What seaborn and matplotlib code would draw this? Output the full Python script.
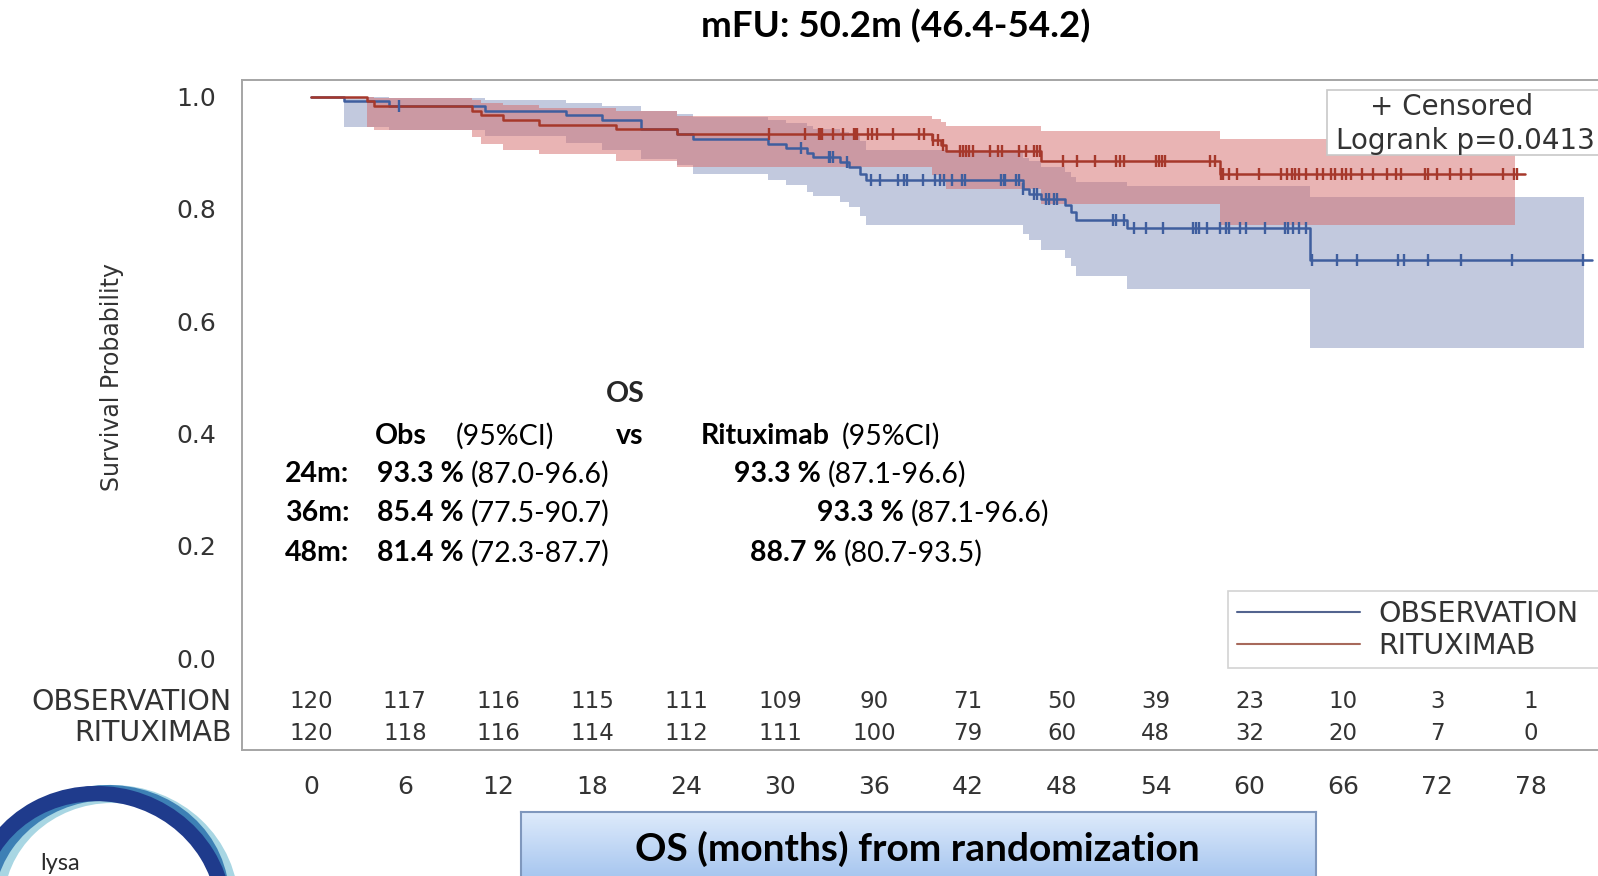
import numpy as np
import pandas as pd
import matplotlib
matplotlib.use("Agg")
import matplotlib.pyplot as plt
import seaborn as sns
from matplotlib.patches import Rectangle, Ellipse
from matplotlib.lines import Line2D

# ---------------- data ----------------
title_text = "mFU: 50.2m (46.4-54.2)"
groups = ["OBSERVATION", "RITUXIMAB"]

obs_t = [0, 2.1, 5.0, 11.1, 16.3, 18.6, 21.1, 23.4, 24.4, 29.2, 30.4, 31.7, 32.1, 33.8,
         34.4, 35.1, 35.5, 45.5, 45.9, 46.7, 48.2, 48.6, 48.9, 52.2, 63.9]
obs_s = [1.0, 0.992, 0.983, 0.975, 0.967, 0.958, 0.942, 0.933, 0.925, 0.916, 0.908, 0.900,
         0.892, 0.883, 0.874, 0.862, 0.851, 0.836, 0.827, 0.818, 0.806, 0.794, 0.780, 0.765, 0.708]
obs_lo = [1.0, 0.945, 0.940, 0.930, 0.918, 0.905, 0.888, 0.878, 0.862, 0.851, 0.842, 0.830,
          0.823, 0.812, 0.803, 0.788, 0.772, 0.756, 0.744, 0.726, 0.712, 0.698, 0.681, 0.658, 0.552]
obs_hi = [1.0, 1.0, 0.997, 0.993, 0.988, 0.983, 0.975, 0.969, 0.964, 0.958, 0.953, 0.947,
          0.942, 0.936, 0.930, 0.921, 0.905, 0.890, 0.885, 0.875, 0.866, 0.857, 0.848, 0.840, 0.821]
obs_end = 81.9
obs_band_end = 81.4
obs_cens = [5.6, 31.3, 33.1, 33.2, 33.4, 34.3, 35.8, 36.4, 37.5, 37.9, 38.1, 39.1, 39.9, 40.2,
            40.5, 41.0, 41.6, 41.8, 44.1, 44.3, 44.4, 45.1, 45.3, 45.5, 46.2, 46.4, 47.0, 47.2,
            47.5, 47.7, 51.3, 51.5, 52.0, 52.6, 53.4, 54.5, 56.4, 56.6, 56.8, 57.3, 58.1, 58.5,
            58.7, 59.4, 59.8, 61.0, 62.3, 62.5, 62.8, 63.2, 63.6, 64.0, 65.6, 66.9, 69.5, 69.9,
            71.4, 73.5, 76.8, 81.3]

rit_t = [0, 3.6, 4.0, 10.3, 10.9, 12.3, 14.6, 19.5, 23.4, 39.7, 40.3, 40.6, 46.7, 58.1]
rit_s = [1.0, 0.992, 0.983, 0.975, 0.967, 0.958, 0.950, 0.942, 0.933, 0.922, 0.913, 0.903, 0.886, 0.862]
rit_lo = [1.0, 0.945, 0.940, 0.928, 0.916, 0.904, 0.898, 0.886, 0.874, 0.860, 0.848, 0.835, 0.808, 0.772]
rit_hi = [1.0, 1.0, 0.997, 0.993, 0.989, 0.984, 0.979, 0.975, 0.966, 0.960, 0.955, 0.948, 0.938, 0.925]
rit_end = 77.6
rit_band_end = 77.0
rit_cens = [29.3, 31.6, 32.5, 32.6, 32.7, 33.4, 34.0, 34.7, 34.8, 34.9, 35.6, 35.9, 36.2, 37.2,
            38.9, 39.2, 39.8, 40.1, 40.4, 41.5, 41.7, 41.9, 42.1, 42.3, 43.4, 43.9, 44.2, 45.3,
            45.7, 46.2, 46.4, 46.6, 48.1, 49.0, 50.1, 51.5, 51.7, 52.0, 54.0, 54.2, 54.4, 54.6,
            57.5, 57.8, 58.2, 58.3, 58.7, 59.2, 60.6, 62.0, 62.4, 62.7, 62.9, 63.2, 63.6, 64.3,
            64.7, 65.2, 65.5, 65.9, 66.2, 66.5, 67.2, 67.9, 68.8, 69.4, 69.7, 71.2, 71.4, 72.0,
            72.8, 73.5, 74.2, 76.2, 76.9, 77.1]

risk_times = [0, 6, 12, 18, 24, 30, 36, 42, 48, 54, 60, 66, 72, 78]
obs_risk = [120, 117, 116, 115, 111, 109, 90, 71, 50, 39, 23, 10, 3, 1]
rit_risk = [120, 118, 116, 114, 112, 111, 100, 79, 60, 48, 32, 20, 7, 0]

yticks = [0.0, 0.2, 0.4, 0.6, 0.8, 1.0]
ytick_labels = ["0.0", "0.2", "0.4", "0.6", "0.8", "1.0"]

censored_label = "+ Censored"
logrank_label = "Logrank p=0.0413"
ylabel_text = "Survival Probability"
xlabel_text = "OS (months) from randomization"
logo_text = "lysa"

# ---------------- style ----------------
sns.set_style("white")
plt.rcParams["font.family"] = ["DejaVu Sans"]
OV = ["Lato", "DejaVu Sans"]

W, H = 1598, 876
fig = plt.figure(figsize=(W / 100, H / 100), dpi=100)

BLUE = "#3f5e9e"
RED = "#a6382b"
BLUE_FILL = "#8795bf"
RED_FILL = "#d46a6a"
GRAY_TXT = "#333333"
SPINE = "#a5a5a5"

# axes geometry (pixels)
ax_left, ax_right, ax_top, ax_bot = 242.5, 1650, 79.5, 750
x0_px, px_per_m = 311.0, 15.64
y1_px, y0_px = 96.5, 658.0
ax = fig.add_axes([ax_left / W, 1 - ax_bot / H, (ax_right - ax_left) / W, (ax_bot - ax_top) / H])
ax.set_xlim((ax_left - x0_px) / px_per_m, (ax_right - x0_px) / px_per_m)
ppu = y0_px - y1_px
ax.set_ylim(-(ax_bot - y0_px) / ppu, 1 + (y1_px - ax_top) / ppu)


def step_val(ts, ss, x):
    i = np.searchsorted(np.asarray(ts), np.asarray(x), side="right") - 1
    return np.asarray(ss)[i]


# bands
ax.fill_between(list(obs_t) + [obs_band_end], list(obs_lo) + [obs_lo[-1]],
                list(obs_hi) + [obs_hi[-1]], step="post", color=BLUE_FILL, alpha=0.5, lw=0, zorder=1)
ax.fill_between(list(rit_t) + [rit_band_end], list(rit_lo) + [rit_lo[-1]],
                list(rit_hi) + [rit_hi[-1]], step="post", color=RED_FILL, alpha=0.5, lw=0, zorder=1)

# curves
obs_df = pd.DataFrame({"t": list(obs_t) + [obs_end], "s": list(obs_s) + [obs_s[-1]]})
rit_df = pd.DataFrame({"t": list(rit_t) + [rit_end], "s": list(rit_s) + [rit_s[-1]]})
sns.lineplot(data=obs_df, x="t", y="s", ax=ax, color=BLUE, lw=1.8, drawstyle="steps-post",
             estimator=None, sort=False, legend=False, zorder=3)
sns.lineplot(data=rit_df, x="t", y="s", ax=ax, color=RED, lw=1.8, drawstyle="steps-post",
             estimator=None, sort=False, legend=False, zorder=3)

# censor marks
oc = pd.DataFrame({"t": obs_cens, "s": step_val(obs_t, obs_s, obs_cens)})
rc = pd.DataFrame({"t": rit_cens, "s": step_val(rit_t, rit_s, rit_cens)})
sns.scatterplot(data=oc, x="t", y="s", ax=ax, marker="|", s=85, linewidth=1.7, color=BLUE,
                legend=False, zorder=4)
sns.scatterplot(data=rc, x="t", y="s", ax=ax, marker="|", s=85, linewidth=1.7, color=RED,
                legend=False, zorder=4)

# at-risk table inside the axes
row_y = [-(702 - y0_px) / ppu, -(733 - y0_px) / ppu]
for t, a, b in zip(risk_times, obs_risk, rit_risk):
    ax.text(t, row_y[0], str(a), ha="center", va="center", fontsize=16.5, color=GRAY_TXT)
    ax.text(t, row_y[1], str(b), ha="center", va="center", fontsize=16.5, color=GRAY_TXT)
for lab, ry in zip(groups, [702, 733]):
    fig.text(232 / W, 1 - ry / H, lab, ha="right", va="center", fontsize=20.5, color=GRAY_TXT)

# axes styling
ax.set_xticks(risk_times)
ax.set_xticklabels([str(t) for t in risk_times], fontsize=18, color=GRAY_TXT)
ax.set_yticks(yticks)
ax.set_yticklabels(ytick_labels, fontsize=18, color=GRAY_TXT)
ax.tick_params(axis="both", direction="out", length=8, width=1.2, color=SPINE, pad=11)
ax.tick_params(axis="x", pad=10)
ax.set_xlabel("")
ax.set_ylabel("")
for sp in ["left", "top", "bottom", "right"]:
    ax.spines[sp].set_color(SPINE)
    ax.spines[sp].set_linewidth(1.4)
ax.grid(False)

fig.text(112 / W, 1 - 377 / H, ylabel_text, rotation=90, ha="center", va="center",
         fontsize=17, color=GRAY_TXT)

# legend (bottom right), frame running off the right edge
handles = [Line2D([], [], color="#53648f", lw=1.5), Line2D([], [], color="#a7695b", lw=1.5)]
leg_top = 1 - 591 / H
leg = ax.legend(handles, groups, loc="upper left", mode="expand",
                bbox_to_anchor=(1228 / W, leg_top - 0.3, 0.3, 0.3),
                bbox_transform=fig.transFigure, fontsize=20.5, frameon=True, fancybox=False,
                edgecolor="#c8c8c8", handlelength=4.35, handletextpad=0.62, borderpad=0.3,
                labelspacing=0.15, borderaxespad=0)
leg.get_frame().set_linewidth(1.2)
for txt in leg.get_texts():
    txt.set_color(GRAY_TXT)

# x-label gradient box (created before overlay so overlay text stays on top)
xb = fig.add_axes([521 / W, 0, (1316 - 521) / W, (876 - 812) / H])
grad = np.linspace(0, 1, 100)[:, None]
top = np.array([0.87, 0.92, 0.985])
bot = np.array([0.66, 0.78, 0.94])
img = top[None, None, :] * (1 - grad[:, :, None]) + bot[None, None, :] * grad[:, :, None]
xb.imshow(img, aspect="auto", extent=[0, 1, 0, 1])
xb.set_xticks([])
xb.set_yticks([])
for sp in ["left", "top", "right"]:
    xb.spines[sp].set_color("#7f97bd")
    xb.spines[sp].set_linewidth(1.5)
xb.spines["bottom"].set_visible(False)

# overlay axes in pixel coordinates
ov = fig.add_axes([0, 0, 1, 1])
ov.set_xlim(0, W)
ov.set_ylim(H, 0)
ov.axis("off")

# censored / logrank box
ov.add_patch(Rectangle((1327, 90), 320, 65, facecolor="white", edgecolor="#c8c8c8", lw=1.2, zorder=5))
ov.text(1452, 107, censored_label, ha="center", va="center", fontsize=20, color=GRAY_TXT, zorder=6)
ov.text(1336, 141, logrank_label, ha="left", va="center", fontsize=20, color=GRAY_TXT, zorder=6)

# title
ov.text(896, 26, title_text, ha="center", va="center", fontsize=26.5, fontweight="bold",
        family=OV, color="black")

# OS table overlay text
TS = 20.5


def put(x, y, s, bold=False):
    ov.text(x, y, s, ha="left", va="center", fontsize=TS, family=OV,
            fontweight="bold" if bold else "normal", color="black", zorder=6)


ov.text(625, 394, "OS", ha="center", va="center", fontsize=TS, family=OV, fontweight="bold")
put(375, 436, "Obs", True)
put(456, 436, "(95%CI)")
put(616, 436, "vs", True)
put(701, 436, "Rituximab", True)
put(842, 436, "(95%CI)")

rows = [(474, "24m:", "93.3 %", "(87.0-96.6)", 734, "93.3 %", "(87.1-96.6)"),
        (513, "36m:", "85.4 %", "(77.5-90.7)", 817, "93.3 %", "(87.1-96.6)"),
        (553, "48m:", "81.4 %", "(72.3-87.7)", 750, "88.7 %", "(80.7-93.5)")]
for y, lab, v1, c1, xr, v2, c2 in rows:
    put(285, y, lab, True)
    put(377, y, v1, True)
    put(471, y, c1)
    put(xr, y, v2, True)
    put(xr + 94, y, c2)

ov.text(917, 849, xlabel_text, ha="center", va="center", fontsize=28, fontweight="bold",
        family=OV, color="black", zorder=7)

# logo (partial, bottom-left)
ov.add_patch(Ellipse((112, 905), 235, 222, angle=0, fill=False, edgecolor="#a8d6e3", lw=13, zorder=2))
ov.add_patch(Ellipse((104, 902), 236, 218, angle=-12, fill=False, edgecolor="#3d80b5", lw=11, zorder=2))
ov.add_patch(Ellipse((100, 912), 250, 236, angle=15, fill=False, edgecolor="#1f3b8c", lw=11, zorder=2))
ov.text(40, 870, logo_text, ha="left", va="baseline", fontsize=17, family=OV, color="#2b2b2b")

fig.savefig("out.png", dpi=100)
